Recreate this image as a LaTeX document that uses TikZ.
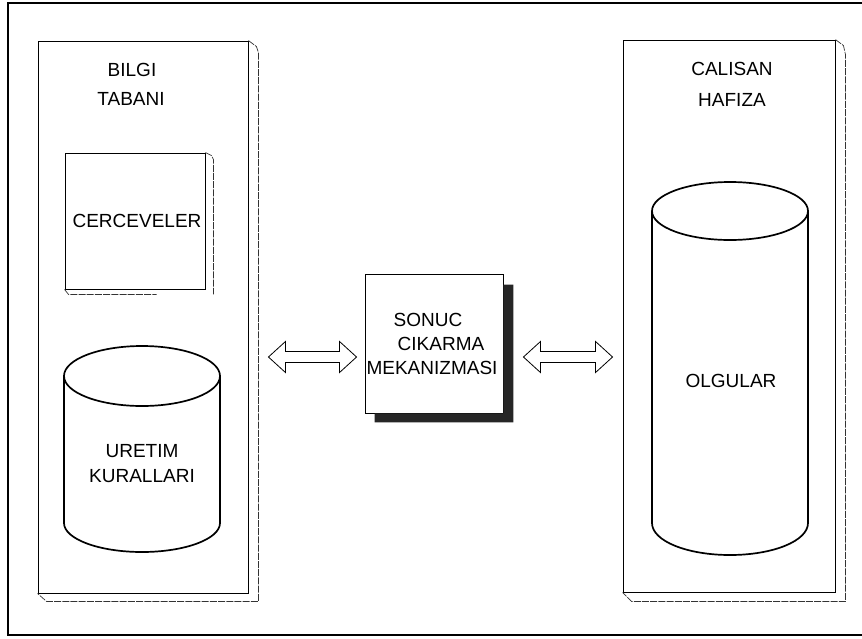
\documentclass[tikz,border=0pt]{standalone}
\usepackage{fontspec}
\setmainfont{Liberation Sans}
\usetikzlibrary{calc}
\begin{document}
\begin{tikzpicture}[x=1pt,y=-1pt,
  lbl/.style={font=\fontsize{19}{21}\selectfont, inner sep=0pt},
  outline/.style={draw=black, line width=0.9pt, inner sep=0pt, fill=white},
  shadowline/.style={draw=black!80, line width=0.7pt, dash pattern=on 7pt off 1.2pt},
  tank/.style={draw=black, line width=1.7pt, line join=round},
  twohead/.style={draw=black, line width=0.8pt, line join=miter, fill=white}]
\useasboundingbox (0,0) rectangle (862,638);

% outer frame, open on the right
\draw[line width=1.1pt] (862,3) -- (8,3) -- (8,635) -- (862,635);

% ---------- knowledge base ----------
\node[outline, minimum width=210pt, minimum height=552pt] (kb) at (143,317) {};
\draw[shadowline] (kb.north east) -- ++(8,6) -- ++(2,6) |- ($(kb.south west)+(9,8)$) -- (kb.south west);
\node[lbl] (kbt1) at (132,70) {BILGI};
\node[lbl] (kbt2) at (131,99) {TABANI};

% frames box
\node[outline, minimum width=140pt, minimum height=136pt] (cerc) at (135,221) {};
\draw[shadowline] (cerc.north east) -- ++(6,3) -- ++(2,4) -- ($(cerc.south east)+(8,5)$);
\draw[shadowline] (cerc.south west) -- ++(4,5) -- ++(88,0);
\node[lbl] (cerct) at (137,221) {CERCEVELER};

% production rules store
\draw[tank, fill=white] (64,376) -- (64,523)
  .. controls (64,539) and (99,552) .. (142,552)
  .. controls (185,552) and (220,539) .. (220,523) -- (220,376);
\draw[tank, fill=white] (142,376) ellipse [x radius=78, y radius=30];
\node[lbl] (ur1) at (142,451) {URETIM};
\node[lbl] (ur2) at (142,476) {KURALLARI};

% ---------- inference engine ----------
\node[outline, minimum width=138pt, minimum height=139pt] (mech) at (434,343.5) {};
\fill[black!85] ($(mech.north east)+(0,11)$) -- ($(mech.north east)+(10,11)$)
  -- ($(mech.south east)+(10,9)$) -- ($(mech.south west)+(10,9)$)
  -- ($(mech.south west)+(10,0)$) -- (mech.south east) -- cycle;
\node[lbl] (m1) at (428,320) {SONUC};
\node[lbl] (m2) at (441,344) {CIKARMA};
\node[lbl] (m3) at (432,368) {MEKANIZMASI};

% ---------- working memory ----------
\node[outline, minimum width=212pt, minimum height=552pt] (wm) at (729,316) {};
\draw[shadowline] (wm.north east) -- ++(8,6) -- ++(2,9) |- ($(wm.south west)+(9,9)$) -- (wm.south west);
\node[lbl] (wmt1) at (732,69) {CALISAN};
\node[lbl] (wmt2) at (732,100) {HAFIZA};

% facts store
\draw[tank, fill=white] (652,211) -- (652,523)
  .. controls (652,541) and (687,555) .. (730,555)
  .. controls (773,555) and (808,541) .. (808,523) -- (808,211);
\draw[tank, fill=white] (730,211) ellipse [x radius=78, y radius=29];
\node[lbl] (olg) at (731,381) {OLGULAR};

% ---------- two-way arrows ----------
\coordinate (la) at ($(kb.east)+(20,40)$);
\coordinate (lb) at ($(mech.west)+(-8,13.5)$);
\coordinate (ra) at ($(mech.east)+(20,13.5)$);
\coordinate (rb) at ($(wm.west)+(-10,41)$);
\draw[twohead] (la) -- ++(17,-15.5) -- ++(0,10) -- ($(lb)+(-17,-5.5)$) -- ++(0,-10)
  -- (lb) -- ++(-17,15.5) -- ++(0,-10) -- ($(la)+(17,5.5)$) -- ++(0,10) -- cycle;
\draw[twohead] (ra) -- ++(17,-15.5) -- ++(0,10) -- ($(rb)+(-17,-5.5)$) -- ++(0,-10)
  -- (rb) -- ++(-17,15.5) -- ++(0,-10) -- ($(ra)+(17,5.5)$) -- ++(0,10) -- cycle;
\end{tikzpicture}
\end{document}
